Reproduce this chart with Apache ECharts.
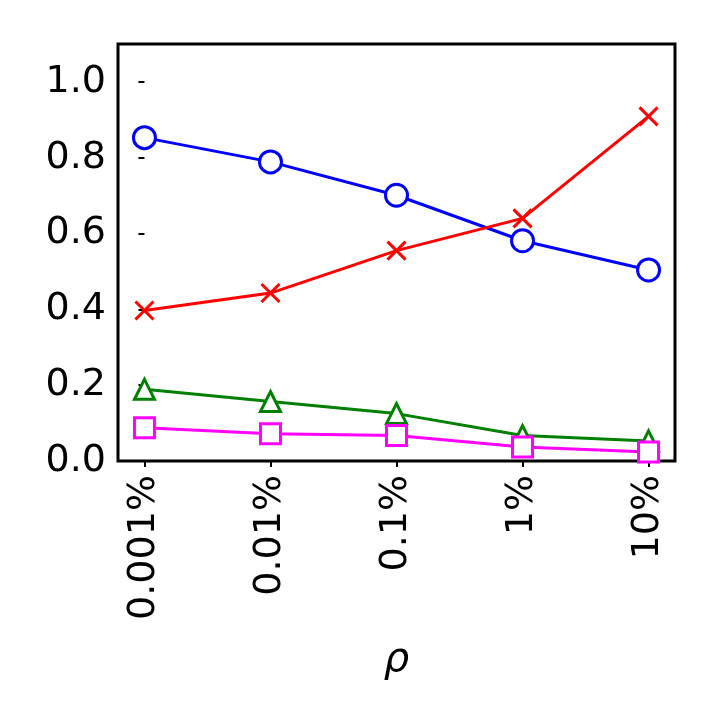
<!DOCTYPE html>
<html><head><meta charset="utf-8">
<script src="https://cdn.jsdelivr.net/npm/echarts@6/dist/echarts.min.js"></script>
<style>html,body{margin:0;background:#fff}#c{width:720px;height:720px}</style>
</head><body><div id="c"></div>
<script>
const categories = ['0.001%', '0.01%', '0.1%', '1%', '10%'];
const blueVals = [0.853, 0.789, 0.701, 0.581, 0.504];
const redVals = [0.397, 0.443, 0.555, 0.640, 0.909];
const greenVals = [0.189, 0.157, 0.125, 0.067, 0.053];
const magentaVals = [0.088, 0.072, 0.067, 0.037, 0.024];

const crossPath = 'path://M0,0L10,10M10,0L0,10';
function mk(vals, color, symbol, size) {
  return {
    type: 'line', data: vals.map((v, i) => [i, v]),
    symbol, symbolSize: size, showAllSymbol: true,
    lineStyle: { color, width: 3 },
    itemStyle: { color: symbol === crossPath ? color : '#fff', borderColor: color, borderWidth: 3 },
    z: 3
  };
}
const chart = echarts.init(document.getElementById('c'));
chart.setOption({
  animation: false,
  grid: { left: 118, top: 44, width: 557, height: 417, show: true, borderColor: '#000', borderWidth: 3 },
  xAxis: {
    type: 'value', min: -0.21, max: 4.21, interval: 1,
    name: 'ρ', nameLocation: 'middle', nameGap: 180,
    nameTextStyle: { fontSize: 40, fontStyle: 'italic', color: '#000', fontFamily: 'DejaVu Sans' },
    axisLine: { show: false }, splitLine: { show: false },
    axisTick: { show: true, length: 6, lineStyle: { color: '#000', width: 2 }, customValues: [0, 1, 2, 3, 4] },
    axisLabel: { rotate: 90, fontSize: 38, color: '#000', fontFamily: 'DejaVu Sans', margin: 14,
      customValues: [0, 1, 2, 3, 4], formatter: v => categories[Math.round(v)] }
  },
  yAxis: {
    type: 'value', min: 0, max: 1.1, interval: 0.2,
    axisLine: { show: false }, splitLine: { show: false },
    axisTick: { show: true, length: 6, lineStyle: { color: '#000', width: 2 } },
    axisLabel: { fontSize: 38, color: '#000', fontFamily: 'DejaVu Sans', margin: 12,
      formatter: v => v > 1.05 ? '' : v.toFixed(1) }
  },
  series: [
    mk(blueVals, '#0000ff', 'circle', 22),
    mk(redVals, '#ff0000', crossPath, 18),
    mk(greenVals, '#008000', 'triangle', 20),
    mk(magentaVals, '#ff00ff', 'rect', 20)
  ]
});
</script></body></html>
